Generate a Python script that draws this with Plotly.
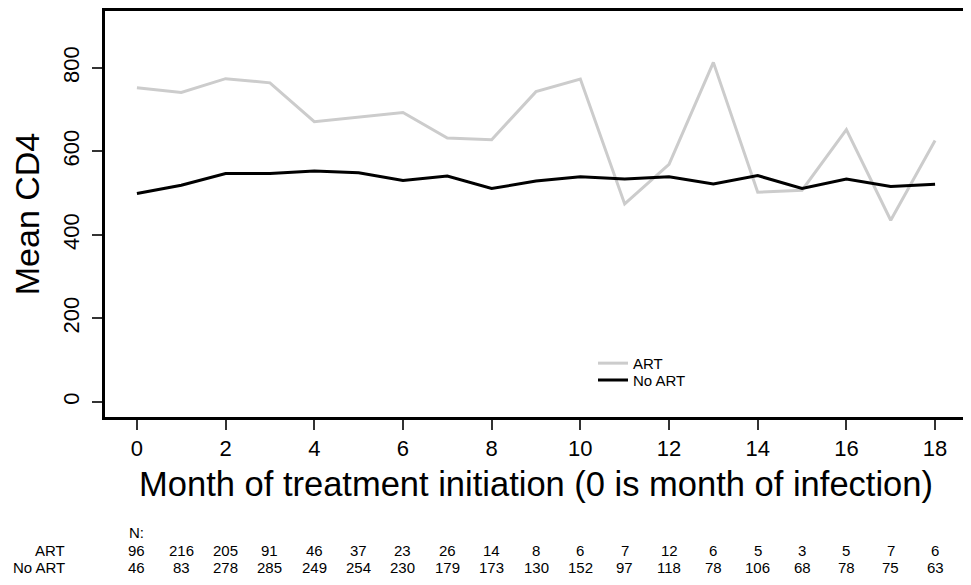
import plotly.graph_objects as go

months = list(range(19))
art_mean = [752, 741, 774, 764, 671, 682, 693, 632, 628, 743, 773, 474, 569, 813, 502, 507, 652, 435, 626]
noart_mean = [499, 519, 547, 547, 553, 549, 530, 541, 511, 529, 539, 534, 539, 522, 542, 511, 534, 516, 521]
art_n = [96, 216, 205, 91, 46, 37, 23, 26, 14, 8, 6, 7, 12, 6, 5, 3, 5, 7, 6]
noart_n = [46, 83, 278, 285, 249, 254, 230, 179, 173, 130, 152, 97, 118, 78, 106, 68, 78, 75, 63]
series_names = ["ART", "No ART"]
y_ticks = [0, 200, 400, 600, 800]
x_ticks = list(range(0, 19, 2))

# page is rendered with the browser's default 8px body margin
OFF = 8
PAGE_W, PAGE_H = 971, 585
W, H = PAGE_W - OFF, PAGE_H - OFF
# plot box in page pixels
BOX_L, BOX_R, BOX_T, BOX_B = 105, 967, 8, 417
ML, MR, MT, MB = BOX_L - OFF, W - (BOX_R - OFF), BOX_T - OFF, H - (BOX_B - OFF)
plot_w = W - ML - MR
plot_h = H - MT - MB

def ypaper(ypix_page):
    return (BOX_B - ypix_page) / plot_h

def xpaper(xpix_page):
    return (xpix_page - BOX_L) / plot_w

FONT = "Liberation Sans, Arial, Helvetica, sans-serif"
SMALL = 15

fig = go.Figure()
fig.add_trace(go.Scatter(x=months, y=art_mean, mode="lines", name=series_names[0],
                         line=dict(color="#cccccc", width=3), legend="legend"))
fig.add_trace(go.Scatter(x=months, y=noart_mean, mode="lines", name=series_names[1],
                         line=dict(color="#000000", width=3), legend="legend2"))

annotations = []
annotations.append(dict(x=0, y=ypaper(533), xref="x", yref="paper", text="N:",
                        showarrow=False, xanchor="center", yanchor="middle", borderpad=0,
                        font=dict(size=SMALL, color="black", family=FONT)))
for row_name, vals, ypix in [(series_names[0], art_n, 551), (series_names[1], noart_n, 569)]:
    annotations.append(dict(x=xpaper(66), y=ypaper(ypix), xref="paper", yref="paper",
                            text=row_name, showarrow=False, xanchor="right", yanchor="middle",
                            borderpad=0, font=dict(size=SMALL, color="black", family=FONT)))
    for m, v in zip(months, vals):
        annotations.append(dict(x=m, y=ypaper(ypix), xref="x", yref="paper", text=str(v),
                                showarrow=False, xanchor="center", yanchor="middle",
                                borderpad=0, font=dict(size=SMALL, color="black", family=FONT)))

leg_common = dict(xanchor="left", yanchor="middle", bgcolor="rgba(0,0,0,0)",
                  borderwidth=0, itemwidth=30, font=dict(size=SMALL, family=FONT, color="black"))

fig.update_layout(
    width=W, height=H,
    margin=dict(l=ML, r=MR, t=MT, b=MB, pad=0),
    paper_bgcolor="white", plot_bgcolor="white",
    font=dict(family=FONT, color="black"),
    showlegend=True,
    legend=dict(x=xpaper(593), y=ypaper(363), **leg_common),
    legend2=dict(x=xpaper(593), y=ypaper(380), **leg_common),
    annotations=annotations,
)
fig.update_xaxes(range=[-0.72, 18.72], tickvals=x_ticks, ticks="outside", ticklen=10,
                 tickwidth=1.5, tickcolor="#333", showgrid=False, zeroline=False,
                 showline=True, linecolor="black", linewidth=3, mirror=True,
                 tickfont=dict(size=22, family=FONT),
                 title=dict(text="Month of treatment initiation (0 is month of infection)",
                            font=dict(size=34.5, family=FONT), standoff=12))
fig.update_yaxes(range=[-36, 936], tickvals=y_ticks, ticks="outside", ticklen=10,
                 tickwidth=1.5, tickcolor="#333", showgrid=False, zeroline=False,
                 showline=True, linecolor="black", linewidth=3, mirror=True,
                 tickangle=-90, tickfont=dict(size=22, family=FONT), ticklabelstandoff=4,
                 title=dict(text="Mean CD4", font=dict(size=34, family=FONT), standoff=15))

fig.write_html("out.html")
